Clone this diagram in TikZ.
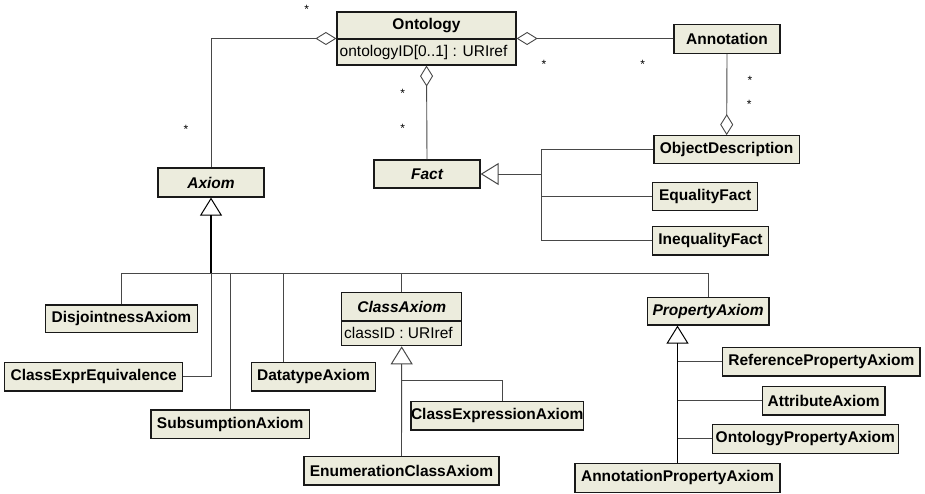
\documentclass[tikz,border=0pt]{standalone}
\usepackage{fontspec}
\setmainfont{Liberation Sans}
\usetikzlibrary{arrows.meta,calc}

\definecolor{umlfill}{RGB}{236,236,221}
\definecolor{umlline}{RGB}{72,72,72}

\tikzset{
  cls/.style={draw=black!90, line width=1.2pt, fill=umlfill, inner sep=0pt,
    font=\fontsize{15.5}{18}\selectfont\bfseries},
  abstractcls/.style={cls, font=\fontsize{15.5}{18}\selectfont\bfseries\itshape},
  plaintext/.style={inner sep=0pt, font=\fontsize{15.5}{18}\selectfont},
  link/.style={draw=umlline, line width=0.9pt},
  aggr/.style={link, -{Diamond[open, length=21pt, width=13pt, line width'=0.9pt]}},
  gen/.style={link, -{Triangle[open, length=18pt, width=22pt, line width'=1pt]}},
  trunk/.style={draw=black, line width=1.8pt},
  mult/.style={inner sep=0pt, font=\fontsize{12}{12}\selectfont},
}

% class box from its corner coordinates (left, top, right, bottom)
\newcommand\umlbox[7][cls]{%
  \node[#1, minimum width={#5pt-#3pt}, minimum height={#6pt-#4pt}]
    (#2) at ({(#3+#5)/2},{-(#4+#6)/2}) {#7};}

\begin{document}
\begin{tikzpicture}[x=1pt, y=1pt]
\useasboundingbox (0,0) rectangle (925,-494);

% ---------- classes ----------
\umlbox{ontology}{337}{12}{516}{65}{}
\node[plaintext, font=\fontsize{15.5}{18}\selectfont\bfseries] (ontologytitle) at (426.5,-25.5) {Ontology};
\draw[line width=1.2pt, draw=black!90] (ontology.west |- 0,-39) -- (ontology.east |- 0,-39);
\node[plaintext, anchor=west] (ontologyattr) at (339.5,-52) {ontologyID[0..1] : URIref};

\umlbox{annotation}{674}{24.3}{780}{53.3}{Annotation}
\umlbox[abstractcls]{axiom}{158}{168}{264}{197}{Axiom}
\umlbox[abstractcls]{fact}{374}{160}{480}{188}{Fact}
\umlbox{objdesc}{654}{135.7}{799.3}{163.3}{ObjectDescription}
\umlbox{eqfact}{652.7}{182.3}{757.7}{210.7}{EqualityFact}
\umlbox{ineqfact}{652.7}{226.7}{768.3}{255}{InequalityFact}

\umlbox{disj}{45.7}{305}{197.3}{332.7}{DisjointnessAxiom}
\umlbox{cee}{4.7}{362.7}{182.7}{391}{ClassExprEquivalence}
\umlbox{subs}{151}{410}{309.3}{438.3}{SubsumptionAxiom}
\umlbox{dtype}{251.3}{362.7}{375.7}{391}{DatatypeAxiom}

\umlbox{classax}{341.7}{292.3}{461.7}{345.7}{}
\node[plaintext, font=\fontsize{15.5}{18}\selectfont\bfseries\itshape] (classaxtitle) at (401.7,-306.6) {ClassAxiom};
\draw[line width=1.2pt, draw=black!90] (classax.west |- 0,-321) -- (classax.east |- 0,-321);
\node[plaintext, anchor=west] (classaxattr) at (344,-333.3) {classID : URIref};
\umlbox{cexpr}{417.3}{401.7}{577}{430}{ClassExpressionAxiom}
\umlbox{enumc}{304}{456.7}{499}{485}{EnumerationClassAxiom}

\umlbox[abstractcls]{propax}{647.3}{297.7}{769}{325}{PropertyAxiom}
\umlbox{refprop}{722.7}{347.7}{920}{376}{ReferencePropertyAxiom}
\umlbox{attrax}{762.3}{386.7}{885}{415}{AttributeAxiom}
\umlbox{ontprop}{712.3}{424.3}{898.3}{453.3}{OntologyPropertyAxiom}
\umlbox{annprop}{575}{463.3}{780}{492.3}{AnnotationPropertyAxiom}

% ---------- aggregations ----------
\draw[aggr] (axiom.north) |- (ontology.west);
\draw[aggr] (ontology.east -| annotation.west) -- (ontology.east);
\draw[aggr] (fact.north) -- (ontology.south);
\draw[aggr] (annotation.south) -- (objdesc.north);

% ---------- generalisation of Fact ----------
\coordinate (factjoin) at (541.7,-174);
\draw[gen] (factjoin) -- (fact.east);
\draw[link] (objdesc.west) -| (factjoin) |- (ineqfact.west);
\draw[link] (eqfact.west) -- (eqfact.west -| factjoin);

% ---------- generalisation of Axiom ----------
\coordinate (axjoin) at (211,-273);
\draw[gen, trunk] (axjoin) -- (axiom.south);
\draw[link] (disj.north) |- (axjoin);
\draw[link] (axjoin) -| (propax.north);
\draw[link] (cee.east) -| (axjoin);
\draw[link] (subs.north) -- (subs.north |- axjoin);
\coordinate (dtypetop) at ($(dtype.north west)+(32.7,0)$);
\draw[link] (dtypetop) -- (dtypetop |- axjoin);
\draw[link] (classax.north) -- (classax.north |- axjoin);

% ---------- generalisation of ClassAxiom ----------
\draw[gen] (enumc.north) -- (classax.south);
\coordinate (classjoin) at (401.7,-380);
\coordinate (cexprtop) at ($(cexpr.north west)+(92,0)$);
\draw[link] (classjoin) -| (cexprtop);

% ---------- generalisation of PropertyAxiom ----------
\draw[gen, draw=black, line width=1.4pt] (annprop.north) -- (annprop.north |- propax.south);
\draw[link] (refprop.west) -- (refprop.west -| annprop.north);
\draw[link] (attrax.west) -- (attrax.west -| annprop.north);
\draw[link] (ontprop.west) -- (ontprop.west -| annprop.north);

% ---------- multiplicities ----------
\node[mult] (m1) at (306.7,-9.8) {*};
\node[mult] (m2) at (186,-129.2) {*};
\node[mult] (m3) at (544,-64.2) {*};
\node[mult] (m4) at (642.7,-64.2) {*};
\node[mult] (m5) at (750,-80.8) {*};
\node[mult] (m6) at (749.3,-104.2) {*};
\node[mult] (m7) at (402.7,-93.5) {*};
\node[mult] (m8) at (402.7,-128.2) {*};
\end{tikzpicture}
\end{document}
